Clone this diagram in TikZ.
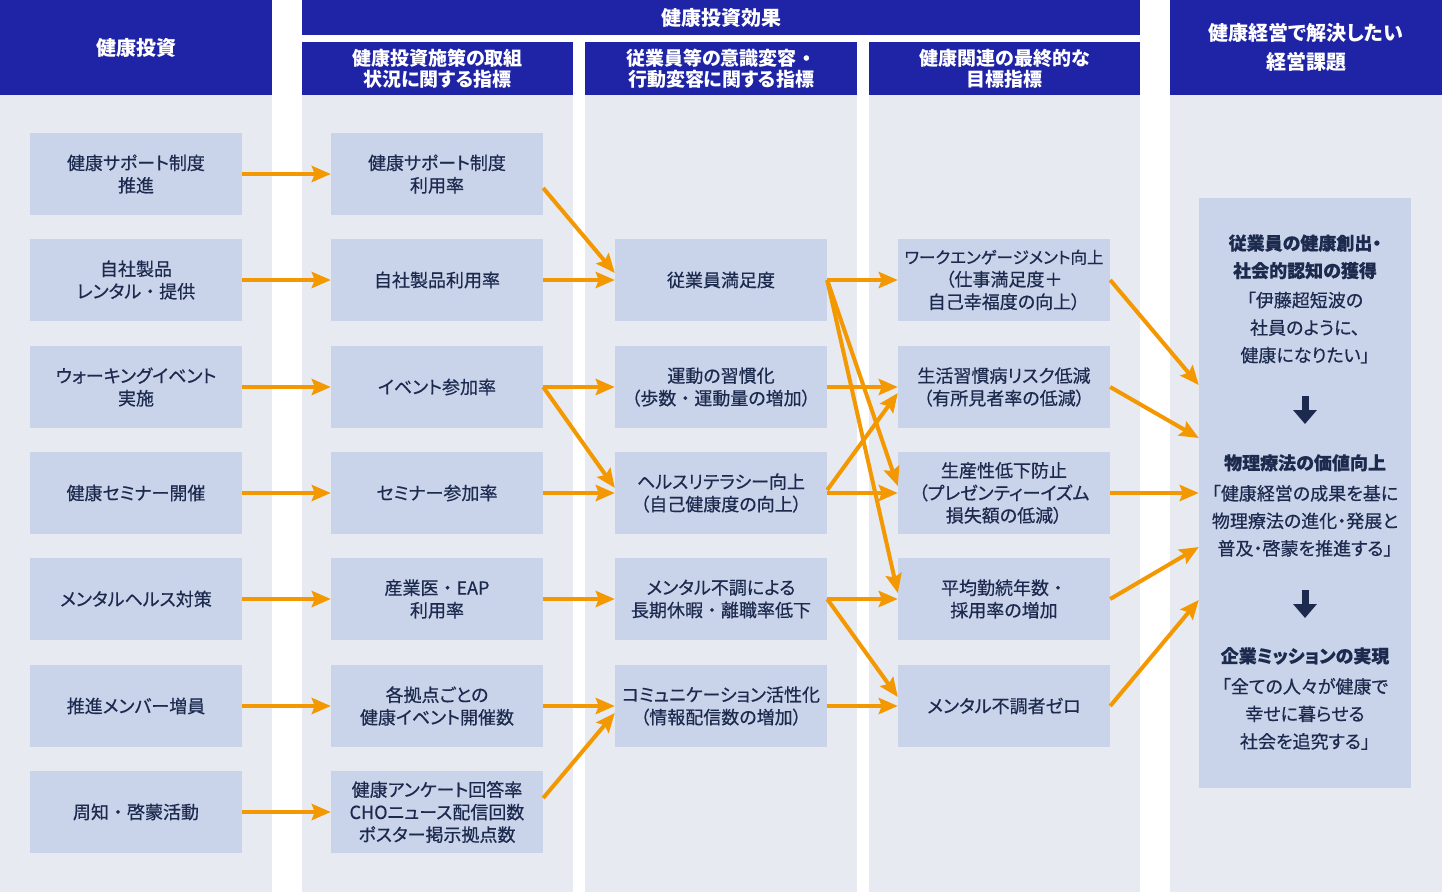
\documentclass[tikz,border=0pt]{standalone}
\usepackage{fontspec}
\setmainfont{Noto Sans CJK JP}[RawFeature=+palt]
\newfontfamily\fullwidth{Noto Sans CJK JP}[FakeBold=0.5]
\newfontfamily\medium{Noto Sans CJK JP}[RawFeature=+palt, FakeBold=0.5]
\usetikzlibrary{arrows.meta,calc}
\definecolor{hdrblue}{HTML}{1F23A6}
\definecolor{colbg}{HTML}{E7EAF0}
\definecolor{boxbg}{HTML}{C9D3EA}
\definecolor{txtnavy}{HTML}{1C2A4E}
\definecolor{arrorange}{HTML}{F39800}
\newcommand{\wdot}{{\fullwidth ・}}
\begin{document}
\begin{tikzpicture}[x=1pt, y=-1pt, line join=round,
	hdr/.style={fill=hdrblue, text=white, inner sep=0pt, align=center, font=\bfseries\fontsize{20}{22}\selectfont},
	subhdr/.style={hdr, minimum width=271pt, minimum height=53pt, font=\bfseries\fontsize{19}{21}\selectfont},
	box/.style={fill=boxbg, text=txtnavy, minimum width=212pt, minimum height=82pt, inner sep=0pt, align=center, font=\medium\fontsize{18}{22.5}\selectfont},
	goaltxt/.style={text=txtnavy, inner sep=0pt, align=center, font=\medium\fontsize{18}{27.5}\selectfont},
	arr/.style={draw=arrorange, line width=4pt, -{Stealth[length=19pt,width=16pt,inset=3pt]}},
	darr/.style={draw=txtnavy, line width=7pt, -{Triangle[length=14pt,width=23pt]}}]
	\useasboundingbox (0,0) rectangle (1442,892);
	\fill[white] (0,0) rectangle (1442,892);
	
	% column backgrounds
	\fill[colbg] (0,95) rectangle (272,892);
	\fill[colbg] (302,95) rectangle (573,892);
	\fill[colbg] (585,95) rectangle (857,892);
	\fill[colbg] (869,95) rectangle (1140,892);
	\fill[colbg] (1170,95) rectangle (1442,892);
	
	% headers
	\node[hdr, minimum width=272pt, minimum height=95pt] (hInv) at (136,47.5) {健康投資};
	\node[hdr, minimum width=838pt, minimum height=35pt] (hEff) at (721,17.5) {健康投資効果};
	\node[subhdr] (hUse) at (437.5,68.5) {健康投資施策の取組\\状況に関する指標};
	\node[subhdr, minimum width=272pt] (hBeh) at (721,68.5) {従業員等の意識変容\wdot\\行動変容に関する指標};
	\node[subhdr] (hTgt) at (1004.5,68.5) {健康関連の最終的な\\目標指標};
	\node[hdr, minimum width=272pt, minimum height=95pt, font=\bfseries\fontsize{20}{29}\selectfont] (hGoal) at (1306,47.5) {健康経営で解決したい\\経営課題};
	
	% 健康投資
	\node[box] (inv1) at (136,174) {健康サポート制度\\推進};
	\node[box] (inv2) at (136,280) {自社製品\\レンタル\wdot 提供};
	\node[box] (inv3) at (136,387) {ウォーキングイベント\\実施};
	\node[box] (inv4) at (136,493) {健康セミナー開催};
	\node[box] (inv5) at (136,599) {メンタルヘルス対策};
	\node[box] (inv6) at (136,706) {推進メンバー増員};
	\node[box] (inv7) at (136,812) {周知\wdot 啓蒙活動};
	
	% 施策の取組状況
	\node[box] (use1) at (437,174) {健康サポート制度\\利用率};
	\node[box] (use2) at (437,280) {自社製品利用率};
	\node[box] (use3) at (437,387) {イベント参加率};
	\node[box] (use4) at (437,493) {セミナー参加率};
	\node[box] (use5) at (437,599) {産業医\wdot EAP\\利用率};
	\node[box] (use6) at (437,706) {各拠点ごとの\\健康イベント開催数};
	\node[box] (use7) at (437,812) {健康アンケート回答率\\CHOニュース配信回数\\ポスター掲示拠点数};
	
	% 意識変容・行動変容
	\node[box] (beh2) at (721,280) {従業員満足度};
	\node[box] (beh3) at (721,387) {運動の習慣化\\（歩数\wdot 運動量の増加）};
	\node[box] (beh4) at (721,493) {ヘルスリテラシー向上\\（自己健康度の向上）};
	\node[box] (beh5) at (721,599) {メンタル不調による\\長期休暇\wdot 離職率低下};
	\node[box] (beh6) at (721,706) {コミュニケーション活性化\\（情報配信数の増加）};
	
	% 最終的な目標指標
	\node[box] (tgt2) at (1004,280) {{\fontsize{16.5}{22.5}\selectfont ワークエンゲージメント向上}\\（仕事満足度＋\\自己幸福度の向上）};
	\node[box] (tgt3) at (1004,387) {生活習慣病リスク低減\\（有所見者率の低減）};
	\node[box] (tgt4) at (1004,493) {生産性低下防止\\（プレゼンティーイズム\\損失額の低減）};
	\node[box] (tgt5) at (1004,599) {平均勤続年数\wdot\\採用率の増加};
	\node[box] (tgt6) at (1004,706) {メンタル不調者ゼロ};
	
	% 経営課題
	\node[fill=boxbg, minimum width=212pt, minimum height=590pt, inner sep=0pt] (goal) at (1305,493) {};
	\node[goaltxt] (goalA) at (1305,299) {{\bfseries 従業員の健康創出・}\\{\bfseries 社会的認知の獲得}\\[2pt]「伊藤超短波の\\社員のように、\\健康になりたい」};
	\node[goaltxt] (goalB) at (1305,505.5) {{\bfseries 物理療法の価値向上}\\[3pt]「健康経営の成果を基に\\物理療法の進化・発展と\\普及・啓蒙を推進する」};
	\node[goaltxt] (goalC) at (1305,698.5) {{\bfseries 企業ミッションの実現}\\[3pt]「全ての人々が健康で\\幸せに暮らせる\\社会を追究する」};
	\coordinate (dnA) at (1305,396);
	\coordinate (dnAe) at (1305,424);
	\coordinate (dnB) at (1305,590);
	\coordinate (dnBe) at (1305,618);
	\draw[darr] (dnA) -- (dnAe);
	\draw[darr] (dnB) -- (dnBe);
	
	% arrows
	\foreach \i in {1,...,7} \draw[arr] (inv\i) -- (use\i);
	\foreach \i in {2,...,6} \draw[arr] (use\i) -- (beh\i);
	\foreach \i in {2,...,6} \draw[arr] (beh\i) -- (tgt\i);
	\draw[arr] ([yshift=-14pt]use1.east) -- ([yshift=7pt]beh2.west);
	\draw[arr] (use3.east) -- ([yshift=5pt]beh4.west);
	\draw[arr] ([yshift=14pt]use7.east) -- ([yshift=-7pt]beh6.west);
	\draw[arr] (beh2.east) -- ([yshift=7pt]tgt4.west);
	\draw[arr] (beh2.east) -- ([yshift=6pt]tgt5.west);
	\draw[arr] ([yshift=3pt]beh4.east) -- ([yshift=-6pt]tgt3.west);
	\draw[arr] (beh5.east) -- ([yshift=9pt]tgt6.west);
	\draw[arr] (tgt2.east) -- ([yshift=108pt]goal.west);
	\draw[arr] (tgt3.east) -- ([yshift=55pt]goal.west);
	\draw[arr] (tgt4.east) -- (goal.west);
	\draw[arr] (tgt5.east) -- ([yshift=-54pt]goal.west);
	\draw[arr] (tgt6.east) -- ([yshift=-107pt]goal.west);
\end{tikzpicture}
\end{document}
